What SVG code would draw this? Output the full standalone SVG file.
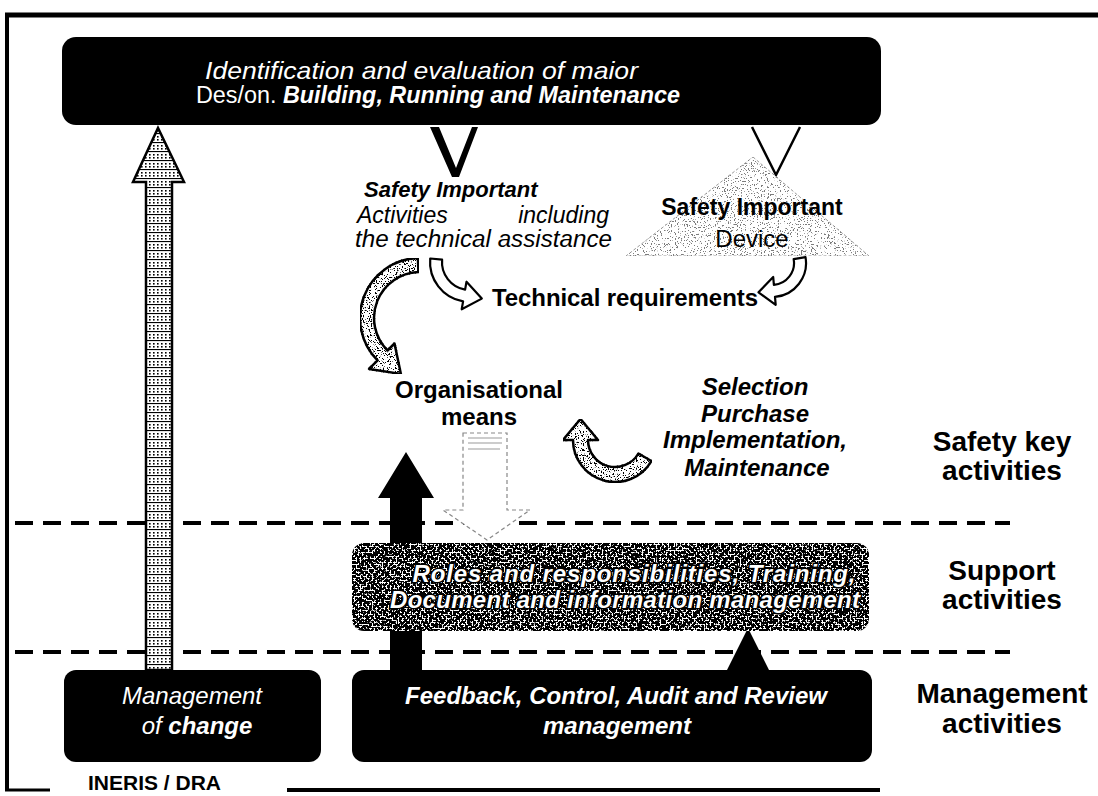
<svg xmlns="http://www.w3.org/2000/svg" width="1098" height="796" viewBox="0 0 1098 796">
<style>
text{font-family:"Liberation Sans",Arial,sans-serif;}
.w{fill:#fff}
.k{fill:#000}
.bi{font-weight:bold;font-style:italic}
.i{font-style:italic}
.b{font-weight:bold}
.dash{stroke:#000;stroke-width:4;stroke-dasharray:18 10;fill:none}
.frame{stroke:#000;fill:none}
.curve{fill:#fff;stroke:#000;stroke-width:2.5;stroke-linejoin:round}
.outl{fill:#fff;stroke:#000;stroke-width:2.2;stroke-linejoin:round}
.lbl{font-size:28px;font-weight:bold;text-anchor:middle}
</style>
<defs>
<pattern id="hatch" width="8" height="9" patternUnits="userSpaceOnUse">
<rect width="8" height="9" fill="#fff"/>
<rect x="1" y="1" width="1.6" height="1.6" fill="#000"/>
<rect x="5" y="1" width="1.6" height="1.6" fill="#000"/>
<rect x="1" y="4" width="1.6" height="1.6" fill="#000"/>
<rect x="5" y="4" width="1.6" height="1.6" fill="#000"/>
<rect x="0" y="7" width="8" height="1.1" fill="#000"/>
</pattern>
<filter id="spkB" x="0" y="0" width="1" height="1">
<feTurbulence type="fractalNoise" baseFrequency="0.85" numOctaves="2" seed="4" result="n"/>
<feColorMatrix in="n" type="matrix" values="0 0 0 0 0  0 0 0 0 0  0 0 0 0 0  22 0 0 0 -12.6" result="d"/>
<feComposite in="d" in2="SourceAlpha" operator="in" result="d2"/>
<feMerge><feMergeNode in="SourceGraphic"/><feMergeNode in="d2"/></feMerge>
</filter>
<filter id="spkL" x="0" y="0" width="1" height="1">
<feTurbulence type="fractalNoise" baseFrequency="0.7" numOctaves="2" seed="9" result="n"/>
<feColorMatrix in="n" type="matrix" values="0 0 0 0 0.2  0 0 0 0 0.2  0 0 0 0 0.2  24 0 0 0 -14.6" result="d"/>
<feComposite in="d" in2="SourceAlpha" operator="in" result="d2"/>
<feMerge><feMergeNode in="SourceGraphic"/><feMergeNode in="d2"/></feMerge>
</filter>
<filter id="spkW" x="0" y="0" width="1" height="1">
<feTurbulence type="fractalNoise" baseFrequency="0.5" numOctaves="3" seed="7" result="n"/>
<feColorMatrix in="n" type="matrix" values="0 0 0 0 1  0 0 0 0 1  0 0 0 0 1  20 0 0 0 -10.4" result="d"/>
<feComposite in="d" in2="SourceAlpha" operator="in" result="d2"/>
<feMerge><feMergeNode in="SourceGraphic"/><feMergeNode in="d2"/></feMerge>
</filter>
</defs>

<rect width="1098" height="796" fill="#fff"/>

<g id="frame">
<line class="frame" x1="5" y1="15" x2="1098" y2="15" stroke-width="5"/>
<line class="frame" x1="7" y1="13" x2="7" y2="791" stroke-width="4"/>
<line class="frame" x1="5" y1="790" x2="50" y2="790" stroke-width="3"/>
<line class="frame" x1="287" y1="790" x2="880" y2="790" stroke-width="4"/>
<text x="88" y="790" class="b" font-size="21">INERIS / DRA</text>
</g>

<g id="layers">
<line class="dash" x1="15" y1="523" x2="1010" y2="523"/>
<line class="dash" x1="15" y1="652" x2="1010" y2="652"/>
<text class="lbl" x="1002" y="451">Safety key</text>
<text class="lbl" x="1002" y="480">activities</text>
<text class="lbl" x="1002" y="580">Support</text>
<text class="lbl" x="1002" y="609">activities</text>
<text class="lbl" x="1002" y="703">Management</text>
<text class="lbl" x="1002" y="733">activities</text>
</g>

<g id="connectors">
<path id="change-arrow" d="M146 670 L146 182 L133 182 L158 128 L184 182 L172 182 L172 670 Z" fill="url(#hatch)" stroke="#000" stroke-width="2.5"/>
<polygon id="v-left" points="430,127 439,127 456,168 472,127 478,127 459,177 452,177" fill="#000"/>
<polyline id="v-right" points="752,127 776,175 800,127" fill="none" stroke="#000" stroke-width="2.5"/>
<path id="arc-org" class="curve" filter="url(#spkB)" d="M417.9 258 A60 60 0 0 0 377.6 360.4 L369.1 368.9 L400.9 373.9 L394.5 343.5 L387.5 350.5 A46 46 0 0 1 418.4 272 Z"/>
<path id="arc-tech-left" class="outl" d="M430.2 258.5 A40 40 0 0 0 463.1 301.4 L461.7 309.3 L481.8 298.6 L466.5 281.7 L465.1 289.6 A28 28 0 0 1 442.1 259.6 Z"/>
<path id="arc-tech-right" class="outl" d="M805.5 257.1 A34 34 0 0 1 775 296.9 L775.7 304.8 L758.5 292.3 L773.2 277 L773.9 284.9 A22 22 0 0 0 793.7 259.2 Z"/>
<path id="arc-sel" class="curve" filter="url(#spkB)" d="M651.4 461 A42 42 0 0 1 573 440 L563 440 L580.5 419 L598 440 L588 440 A27 27 0 0 0 638.4 453.5 Z"/>
<polygon id="down-hollow" points="463,433 507,433 507,510 530,510 487,540 443,510 463,510" fill="#fff" stroke="#888" stroke-width="1.2" stroke-dasharray="4 3"/>
<path d="M468 438 H502 M468 443 H502 M468 449 H500" stroke="#999" stroke-width="1"/>
<polygon id="up-black" points="390,670 390,498 378,498 406,452 434,498 422,498 422,670" fill="#000"/>
<polygon id="up-small" points="748,628 726,672 770,672" fill="#000"/>
</g>

<g id="top-box">
<rect x="62" y="37" width="819" height="88" rx="14" fill="#000"/>
<text x="205" y="79" class="w i" font-size="24" textLength="433" lengthAdjust="spacingAndGlyphs">Identification and evaluation of maior</text>
<text x="196" y="103" class="w" font-size="23.5" textLength="484" lengthAdjust="spacingAndGlyphs">Des/on. <tspan class="bi">Building, Running and Maintenance</tspan></text>
</g>

<g id="sia">
<text x="364" y="197" class="bi" font-size="22">Safety Important</text>
<text x="357" y="223" class="i" font-size="23">Activities</text>
<text x="609" y="223" class="i" font-size="23" text-anchor="end">including</text>
<text x="355" y="247" class="i" font-size="23" textLength="257" lengthAdjust="spacingAndGlyphs">the technical assistance</text>
</g>

<g id="sid">
<polygon points="753,157 869,256 626,256" fill="#fff" stroke="#999" stroke-width="1" stroke-dasharray="3 2" filter="url(#spkL)"/>
<text x="752" y="215" class="b" font-size="23" text-anchor="middle">Safety Important</text>
<text x="752" y="247" font-size="24" text-anchor="middle">Device</text>
</g>

<g id="tech-req">
<text x="492" y="306" class="b" font-size="24" textLength="266">Technical requirements</text>
</g>

<g id="org-means">
<text x="479" y="398" class="b" font-size="24" text-anchor="middle">Organisational</text>
<text x="479" y="425" class="b" font-size="24" text-anchor="middle">means</text>
</g>

<g id="selection">
<text x="755" y="395" class="bi" font-size="24" text-anchor="middle">Selection</text>
<text x="755" y="422" class="bi" font-size="24" text-anchor="middle">Purchase</text>
<text x="755" y="448" class="bi" font-size="24" text-anchor="middle">Implementation,</text>
<text x="757" y="476" class="bi" font-size="24" text-anchor="middle">Maintenance</text>
</g>

<g id="support">
<rect x="352" y="543" width="517" height="88" rx="12" fill="#000" filter="url(#spkW)"/>
<text x="634" y="582" class="w bi" font-size="24" text-anchor="middle" stroke="#000" stroke-width="3" paint-order="stroke" textLength="443">Roles and responsibilities, Training,</text>
<text x="625" y="608" class="w bi" font-size="24" text-anchor="middle" stroke="#000" stroke-width="3" paint-order="stroke" textLength="470">Document and information management</text>
</g>

<g id="mgmt-change">
<rect x="64" y="670" width="257" height="92" rx="12" fill="#000"/>
<text x="192" y="704" class="w i" font-size="24" text-anchor="middle">Management</text>
<text x="197" y="734" class="w i" font-size="24" text-anchor="middle">of <tspan class="b">change</tspan></text>
</g>

<g id="feedback">
<rect x="352" y="670" width="520" height="92" rx="12" fill="#000"/>
<text x="616" y="704" class="w bi" font-size="24" text-anchor="middle">Feedback, Control, Audit and Review</text>
<text x="617" y="734" class="w bi" font-size="24" text-anchor="middle">management</text>
</g>
</svg>
